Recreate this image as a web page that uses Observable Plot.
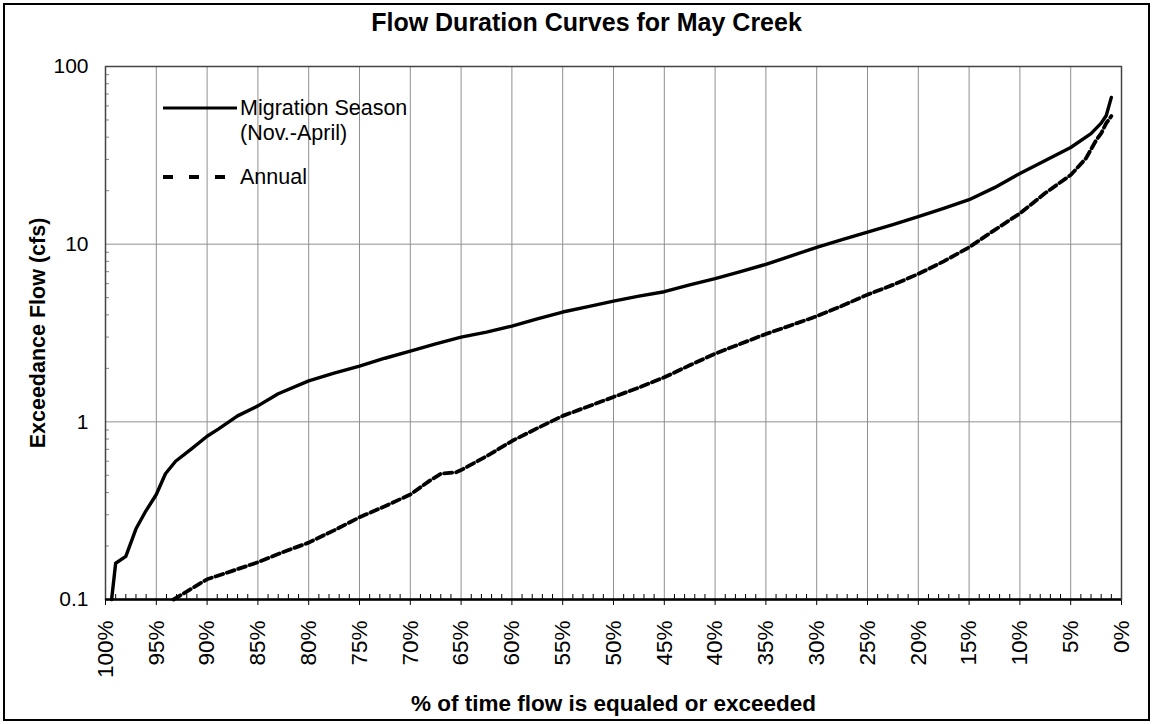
<!DOCTYPE html>
<html><head><meta charset="utf-8">
<script src="https://cdn.jsdelivr.net/npm/d3@7"></script>
<script src="https://cdn.jsdelivr.net/npm/@observablehq/plot@0.6"></script>
<style>
body{margin:0;background:#fff;font-family:"Liberation Sans",Arial,sans-serif;}
#wrap{position:relative;width:1153px;height:724px;overflow:hidden;background:#fff;}
#chart{position:absolute;left:0;top:0;}
#border{position:absolute;left:3px;top:3px;width:1147px;height:718px;box-sizing:border-box;border:2.5px solid #000;pointer-events:none}
#title{position:absolute;left:20px;width:1133px;top:7px;text-align:center;font-weight:bold;font-size:25px;line-height:30px;}
.lg{position:absolute;left:240px;font-size:21.5px;line-height:25px;white-space:nowrap;}
#lgsvg{position:absolute;left:163px;top:95px;}
</style></head><body>
<div id="wrap">
<div id="chart"></div>
<div id="title">Flow Duration Curves for May Creek</div>
<svg id="lgsvg" width="80" height="95">
<line x1="0" x2="74" y1="13" y2="13" stroke="#000" stroke-width="3.2"/>
<line x1="0" x2="62" y1="82" y2="82" stroke="#000" stroke-width="4" stroke-dasharray="10,16"/>
</svg>
<div class="lg" style="top:95.5px">Migration Season</div>
<div class="lg" style="top:120.5px">(Nov.-April)</div>
<div class="lg" style="top:164.5px">Annual</div>
<div id="border"></div>
</div>
<script>
// Migration Season (Nov.-April)
const migPct = [99.4, 99.0, 98.0, 97.0, 96.1, 95, 94.1, 93.1, 91.6, 90, 88.9, 87, 85, 83, 80, 77.5, 75, 72.5, 70, 67.5, 65, 62.5, 60, 57.5, 55, 52.5, 50, 47.5, 45, 42.5, 40, 37.5, 35, 32.5, 30, 27.5, 25, 22.5, 20, 17.5, 15, 12.5, 10, 7.5, 5, 3, 2, 1.5, 1];
const migFlow = [0.1, 0.16, 0.175, 0.25, 0.31, 0.39, 0.51, 0.60, 0.70, 0.83, 0.91, 1.08, 1.23, 1.44, 1.70, 1.88, 2.06, 2.28, 2.5, 2.75, 3.0, 3.2, 3.46, 3.8, 4.15, 4.45, 4.78, 5.1, 5.4, 5.9, 6.4, 7.0, 7.7, 8.6, 9.6, 10.6, 11.7, 12.9, 14.3, 15.9, 17.8, 20.8, 25, 29.6, 35, 41.9, 48, 53, 67];
// Annual
const annPct = [93.3, 90, 87.5, 85, 82.5, 80, 77.5, 75, 72.5, 70, 68, 67, 65.5, 65, 62.5, 60, 57.5, 55, 52.5, 50, 47.5, 45, 42.5, 40, 37.5, 35, 32.5, 30, 27.5, 25, 22.5, 20, 17.5, 15, 12.5, 10, 7.5, 5, 3.5, 2.5, 2, 1.5, 1];
const annFlow = [0.1, 0.13, 0.145, 0.162, 0.185, 0.209, 0.245, 0.29, 0.335, 0.39, 0.47, 0.51, 0.52, 0.535, 0.64, 0.78, 0.92, 1.08, 1.22, 1.38, 1.56, 1.78, 2.08, 2.42, 2.75, 3.12, 3.5, 3.93, 4.5, 5.2, 5.9, 6.8, 8.0, 9.6, 12.0, 14.9, 19.4, 24.5, 30.4, 38.4, 42, 48, 52.6];

const xTicks = [100, 95, 90, 85, 80, 75, 70, 65, 60, 55, 50, 45, 40, 35, 30, 25, 20, 15, 10, 5, 0];
const xTickLabels = ["100%", "95%", "90%", "85%", "80%", "75%", "70%", "65%", "60%", "55%", "50%", "45%", "40%", "35%", "30%", "25%", "20%", "15%", "10%", "5%", "0%"];
const xMinor = d3.range(1, 100).filter(v => v % 5 !== 0);
const yTicks = [0.1, 1, 10, 100];
const yTickLabels = ["0.1", "1", "10", "100"];
const yGrid = [1, 10];
const yMinor = [0.2,0.3,0.4,0.5,0.6,0.7,0.8,0.9,2,3,4,5,6,7,8,9,20,30,40,50,60,70,80,90];
const xLabel = "% of time flow is equaled or exceeded";
const yLabel = "Exceedance Flow (cfs)";

const mig = migPct.map((p, i) => ({p, q: migFlow[i]}));
const ann = annPct.map((p, i) => ({p, q: annFlow[i]}));

const chart = Plot.plot({
  width: 1153,
  height: 724,
  marginLeft: 105,
  marginRight: 32,
  marginTop: 66,
  marginBottom: 125,
  style: {fontFamily: '"Liberation Sans", Arial, sans-serif', fontSize: "21px", background: "transparent", color: "#000"},
  x: {domain: [100, 0], label: null},
  y: {type: "log", domain: [0.1, 100], label: null},
  marks: [
    Plot.gridX(xTicks, {stroke: "#8f8f8f", strokeOpacity: 1, strokeWidth: 1}),
    Plot.gridY(yGrid, {stroke: "#8f8f8f", strokeOpacity: 1, strokeWidth: 1}),
    Plot.axisX(xMinor, {tickSize: -5, tickFormat: () => "", stroke: "#000", label: null}),
    Plot.axisY(yMinor, {tickSize: -4, tickFormat: () => "", stroke: "#888", label: null}),
    Plot.axisX(xTicks, {tickSize: 6, tickPadding: 15, tickRotate: -90, fontSize: 22.5, stroke: "#000", label: null,
      tickFormat: d => xTickLabels[xTicks.indexOf(d)]}),
    Plot.axisY(yTicks, {tickSize: 0, tickPadding: 17, fontSize: 21, label: null,
      tickFormat: d => yTickLabels[yTicks.indexOf(d)]}),
    Plot.frame({stroke: "#444", strokeWidth: 1.5}),
    Plot.ruleY([0.1], {stroke: "#000", strokeWidth: 2.5}),
    Plot.line(mig, {x: "p", y: "q", stroke: "#000", strokeWidth: 3.4}),
    Plot.line(ann, {x: "p", y: "q", stroke: "#000", strokeWidth: 3.8, strokeDasharray: "8,4"}),
    Plot.text([yLabel], {frameAnchor: "left", dx: -67, rotate: -90, textAnchor: "middle", fontWeight: "bold", fontSize: 21.5, fill: "#000"}),
    Plot.text([xLabel], {frameAnchor: "bottom", dy: 111, textAnchor: "middle", fontWeight: "bold", fontSize: 22.5, fill: "#000"})
  ]
});
document.getElementById("chart").appendChild(chart);
</script>
</body></html>
